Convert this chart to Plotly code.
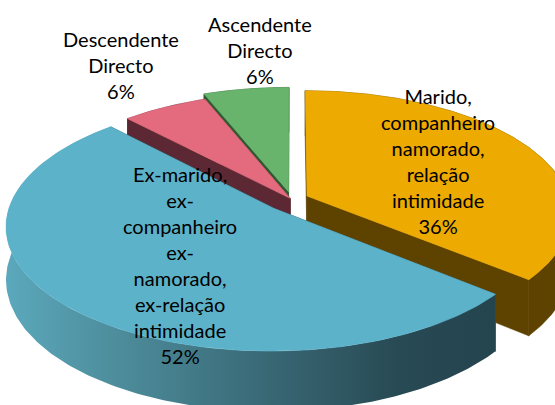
import numpy as np
import plotly.graph_objects as go

# ---------------- data ----------------
categories = [
    "Marido,\ncompanheiro\nnamorado,\nrelação\nintimidade",
    "Ex-marido,\nex-\ncompanheiro\nex-\nnamorado,\nex-relação\nintimidade",
    "Descendente\nDirecto",
    "Ascendente\nDirecto",
]
values = [36, 52, 6, 6]

# ---------------- style ----------------
TOP_COLORS = ["#EDAA00", "#5CB2C9", "#E36B7D", "#69B46D"]
SIDE_COLORS = ["#5E4200", "#2B5561", "#5B2833", "#2F5A31"]
BLUE_SIDE_SCALE = [[0.0, "#5BA8BC"], [0.2, "#4F909F"], [0.5, "#3B6C79"],
                   [0.8, "#284A54"], [1.0, "#24444E"]]
EXPLODE = [0.065, 0.10, 0.01, 0.065]
DRAW_ORDER = [3, 2, 0, 1]
LABEL_R = [0.6, 0.5, 1.45, 1.4]
LABEL_NUDGE = [(-5, -6), (3, 9), (5, -7), (28, -4)]

# 3D projection parameters (pixel space)
CX, CY = 291.7, 199.4
KX, KY, PERSP, DEPTH = 262.0, 120.6, 0.137, 51.5


def proj(x, z, h=0.0):
    x = np.asarray(x, float)
    z = np.asarray(z, float)
    d = 1 - PERSP * z
    return CX + KX * x / d, CY + (KY * z + DEPTH * h) / d


total = float(sum(values))
ends = np.cumsum(values) / total * 360.0
starts = np.concatenate([[0.0], ends[:-1]])

fig = go.Figure()


def add_poly(xs, ys, color=None, gradient=None):
    xs = list(np.atleast_1d(xs))
    ys = list(np.atleast_1d(ys))
    kw = dict(x=xs + [xs[0]], y=ys + [ys[0]], mode="lines", fill="toself",
              line=dict(width=0), hoverinfo="skip", showlegend=False)
    if gradient is not None:
        kw["fillgradient"] = dict(type="horizontal", colorscale=gradient)
    else:
        kw["fillcolor"] = color
        kw["line"] = dict(width=0.6, color=color)
    fig.add_trace(go.Scatter(**kw))


for i in DRAW_ORDER:
    a0, a1 = starts[i], ends[i]
    mid = np.radians((a0 + a1) / 2)
    ox, oz = EXPLODE[i] * np.sin(mid), -EXPLODE[i] * np.cos(mid)
    th = np.radians(np.linspace(a0, a1, 200))
    ax = ox + np.sin(th)
    az = oz - np.cos(th)

    # radial faces
    for a in (np.radians(a0), np.radians(a1)):
        ex, ez = ox + np.sin(a), oz - np.cos(a)
        p1 = proj(ox, oz, 0)
        p2 = proj(ex, ez, 0)
        p3 = proj(ex, ez, 1)
        p4 = proj(ox, oz, 1)
        add_poly([p1[0], p2[0], p3[0], p4[0]], [p1[1], p2[1], p3[1], p4[1]],
                 color=SIDE_COLORS[i])

    # outer curved side
    tx, ty = proj(ax, az, 0)
    bx, by = proj(ax, az, 1)
    sx = np.concatenate([tx, bx[::-1]])
    sy = np.concatenate([ty, by[::-1]])
    if i == 1:
        add_poly(sx, sy, gradient=BLUE_SIDE_SCALE)
    else:
        add_poly(sx, sy, color=SIDE_COLORS[i])

    # top face
    cxp, cyp = proj(ox, oz, 0)
    add_poly(np.concatenate([[cxp], tx]), np.concatenate([[cyp], ty]),
             color=TOP_COLORS[i])

# labels
for i, cat in enumerate(categories):
    mid = np.radians((starts[i] + ends[i]) / 2)
    ox, oz = EXPLODE[i] * np.sin(mid), -EXPLODE[i] * np.cos(mid)
    r = LABEL_R[i]
    lx, ly = proj(ox + r * np.sin(mid), oz - r * np.cos(mid), 0)
    pct = round(values[i] / total * 100)
    text = cat.replace("\n", "<br>") + "<br>" + f"{pct}%"
    fig.add_annotation(x=float(lx) + LABEL_NUDGE[i][0], y=float(ly) + LABEL_NUDGE[i][1],
                       xref="x", yref="y", text=text, showarrow=False,
                       align="center", xanchor="center", yanchor="middle",
                       font=dict(family="Lato, Noto Sans, sans-serif", size=20, color="#000000"))

fig.update_xaxes(range=[0, 555], visible=False, fixedrange=True)
fig.update_yaxes(range=[405, 0], visible=False, fixedrange=True)
fig.update_layout(width=555, height=405, margin=dict(l=0, r=0, t=0, b=0),
                  paper_bgcolor="white", plot_bgcolor="white", showlegend=False)

fig.write_html("out.html", config={"displayModeBar": False},
               post_script="document.body.style.margin='0';document.body.style.overflow='hidden';")
